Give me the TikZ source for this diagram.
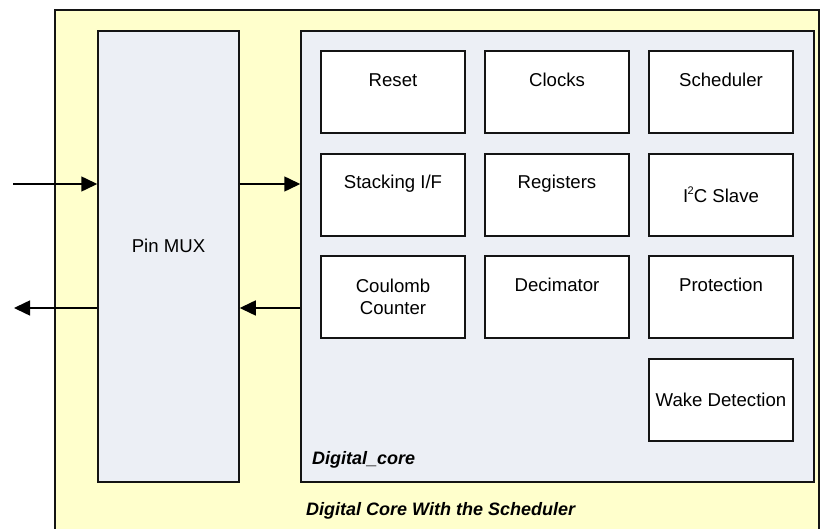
\documentclass[tikz,border=0pt]{standalone}
\usepackage{fontspec}
\setmainfont{Liberation Sans}
\usetikzlibrary{arrows.meta}
\definecolor{outerfill}{RGB}{255,255,204}
\definecolor{corefill}{RGB}{236,239,245}
\definecolor{edge}{RGB}{20,20,20}
\newcommand{\blkfont}{\fontsize{18.6}{21.5}\selectfont}
\begin{document}
\begin{tikzpicture}[x=1pt,y=-1pt,
  every node/.style={font=\blkfont},
  blk/.style={draw=edge,line width=1.5pt,fill=white,minimum width=144pt,minimum height=82pt,inner sep=0pt,align=center},
  toplabel/.style={label={[anchor=center,yshift=-30pt,font=\blkfont]north:#1}},
  bigbox/.style={draw=edge,line width=1.5pt,fill=corefill,inner sep=0pt},
  conn/.style={line width=1.5pt,-{Triangle[length=16pt,width=15pt]}},
  title/.style={font=\fontsize{18}{21}\selectfont\bfseries\itshape,anchor=west,inner sep=0pt}]
\useasboundingbox (0,0) rectangle (822,529);
% outer container (open at bottom, runs off the page)
\fill[outerfill] (55,10) rectangle (819,529);
\draw[edge,line width=1.5pt] (55,529) -- (55,10) -- (819,10) -- (819,529);
% Pin MUX
\node[bigbox,minimum width=141pt,minimum height=451pt] (pinmux) at (168.5,256.5) {};
\node (pinmuxT) at (168.5,246) {Pin MUX};
% Digital core
\node[bigbox,minimum width=513pt,minimum height=451pt] (core) at (557.5,256.5) {};
\node[title] (coreT) at (312,460) {Digital\_core};
\node[title] (outerT) at (306,511) {Digital Core With the Scheduler};
% blocks
\node[blk,toplabel=Reset] (reset) at (393,92) {};
\node[blk,toplabel=Clocks] (clocks) at (557,92) {};
\node[blk,toplabel=Scheduler] (sched) at (721,92) {};
\node[blk,toplabel=Stacking I/F] (stack) at (393,195) {};
\node[blk,toplabel=Registers] (regs) at (557,195) {};
\node[blk] (i2c) at (721,195) {I\kern-0.5pt\raisebox{0.45em}{\fontsize{11}{11}\selectfont 2}C Slave};
\node[blk] (coul) at (393,297) {Coulomb\\Counter};
\node[blk,toplabel=Decimator] (dec) at (557,297) {};
\node[blk,toplabel=Protection] (prot) at (721,297) {};
\node[blk] (wake) at (721,400) {Wake Detection};
% connectors
\coordinate (inL) at (13,184);
\coordinate (outL) at (14,308);
\draw[conn] (inL) -- (inL -| pinmux.west);
\draw[conn] (pinmux.west |- outL) -- (outL);
\draw[conn] (pinmux.east |- inL) -- (core.west |- inL);
\draw[conn] (core.west |- outL) -- (pinmux.east |- outL);
\end{tikzpicture}
\end{document}
